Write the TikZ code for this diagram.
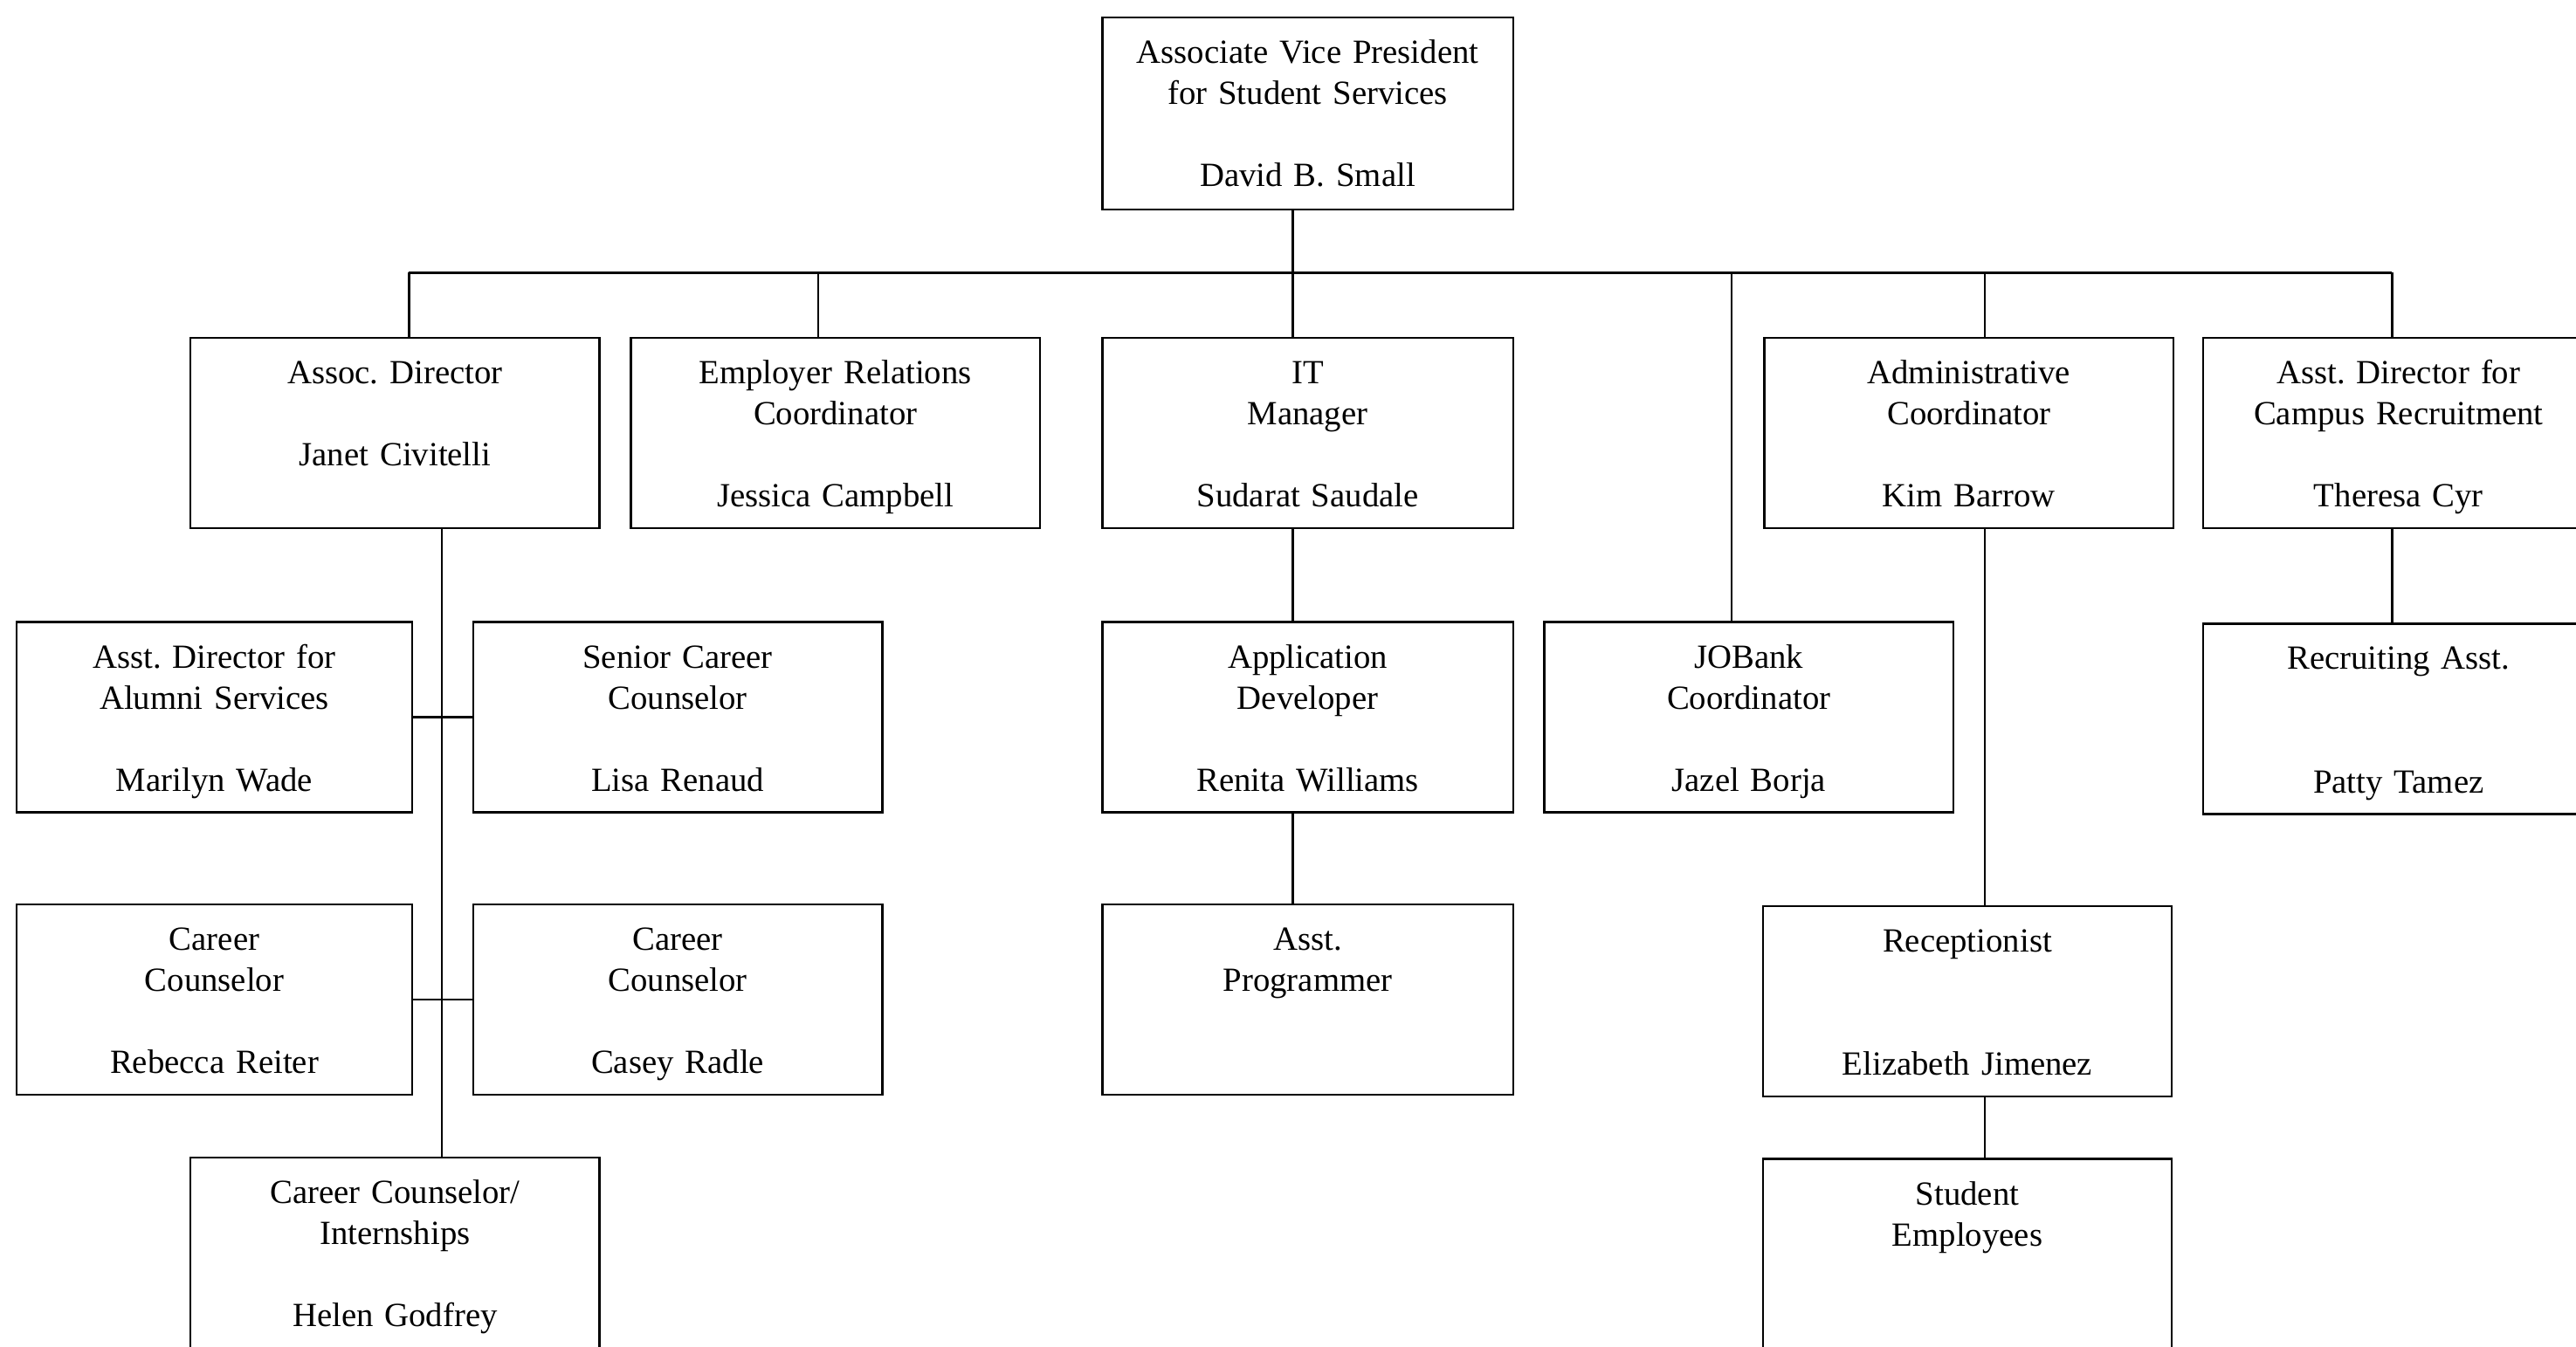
\documentclass[tikz,border=0pt]{standalone}
\usepackage{fontspec}
\setmainfont{Liberation Serif}
\usepackage{tikz}
\frenchspacing

\begin{document}
\begin{tikzpicture}[x=0.5pt,y=0.5pt,yscale=-1,xscale=1,
  post/.style={draw, line width=0.65pt, anchor=north, inner sep=0pt, align=center,
    text width=124.5pt, text height=14pt, text depth=44pt,
    font=\fontsize{10.3pt}{12.5pt}\selectfont},
  link/.style={line width=0.65pt}]

\useasboundingbox (0,0) rectangle (1568,820);
\clip (0,0) rectangle (1568,820);

% top box
\node [post, text width=125pt, text depth=44.5pt] (avp) at (796,10) {Associate Vice President\\for Student Services\\[12.5pt]David B. Small};

% first row
\node [post] (assoc) at (240.5,205) {Assoc. Director\\[12.5pt]Janet Civitelli};
\node [post] (emprel) at (508.5,205) {Employer Relations\\Coordinator\\[12.5pt]Jessica Campbell};
\node [post, text width=125pt] (itmgr) at (796,205) {IT\\Manager\\[12.5pt]Sudarat Saudale};
\node [post] (admin) at (1198.5,205) {Administrative\\Coordinator\\[12.5pt]Kim Barrow};
\node [post, text width=119pt] (campus) at (1460,205) {Asst. Director for\\Campus Recruitment\\[12.5pt]Theresa Cyr};

% second row
\node [post, text width=120.5pt] (alumni) at (130.5,378) {Asst. Director for\\Alumni Services\\[12.5pt]Marilyn Wade};
\node [post] (senior) at (412.5,378) {Senior Career\\Counselor\\[12.5pt]Lisa Renaud};
\node [post, text width=125pt] (appdev) at (796,378) {Application\\Developer\\[12.5pt]Renita Williams};
\node [post] (jobank) at (1064.5,378) {JOBank\\Coordinator\\[12.5pt]Jazel Borja};
\node [post, text width=119pt] (recruit) at (1460,379) {Recruiting Asst.\\[25pt]Patty Tamez};

% third row
\node [post, text width=120.5pt] (reiter) at (130.5,550) {Career\\Counselor\\[12.5pt]Rebecca Reiter};
\node [post] (radle) at (412.5,550) {Career\\Counselor\\[12.5pt]Casey Radle};
\node [post, text width=125pt] (asstprog) at (796,550) {Asst.\\Programmer};
\node [post] (recept) at (1197.5,551) {Receptionist\\[25pt]Elizabeth Jimenez};

% fourth row
\node [post] (intern) at (240.5,704) {Career Counselor/\\Internships\\[12.5pt]Helen Godfrey};
\node [post] (students) at (1197.5,705) {Student\\Employees};

% bus and drops
\coordinate (bAssoc) at (249,166);
\coordinate (bEmp) at (498,166);
\coordinate (bIT) at (787,166);
\coordinate (bJob) at (1054,166);
\coordinate (bAdmin) at (1208,166);
\coordinate (bCampus) at (1456,166);
\coordinate (trunk) at (269,0);

\draw [link] (avp.south -| bIT) -- (bIT);
\draw [link] (bAssoc) -- (bCampus);
\draw [link] (bAssoc) -- (assoc.north -| bAssoc);
\draw [link] (bEmp) -- (emprel.north -| bEmp);
\draw [link] (bIT) -- (itmgr.north -| bIT);
\draw [link] (bJob) -- (jobank.north -| bJob);
\draw [link] (bAdmin) -- (admin.north -| bAdmin);
\draw [link] (bCampus) -- (campus.north -| bCampus);

% counselors
\draw [link] (assoc.south -| trunk) -- (intern.north -| trunk);
\draw [link] (alumni.east) -- (senior.west);
\draw [link] (reiter.east) -- (radle.west);

% IT
\draw [link] (itmgr.south -| bIT) -- (appdev.north -| bIT);
\draw [link] (appdev.south -| bIT) -- (asstprog.north -| bIT);

% admin
\draw [link] (admin.south -| bAdmin) -- (recept.north -| bAdmin);
\draw [link] (recept.south -| bAdmin) -- (students.north -| bAdmin);

% campus
\draw [link] (campus.south -| bCampus) -- (recruit.north -| bCampus);
\end{tikzpicture}
\end{document}
